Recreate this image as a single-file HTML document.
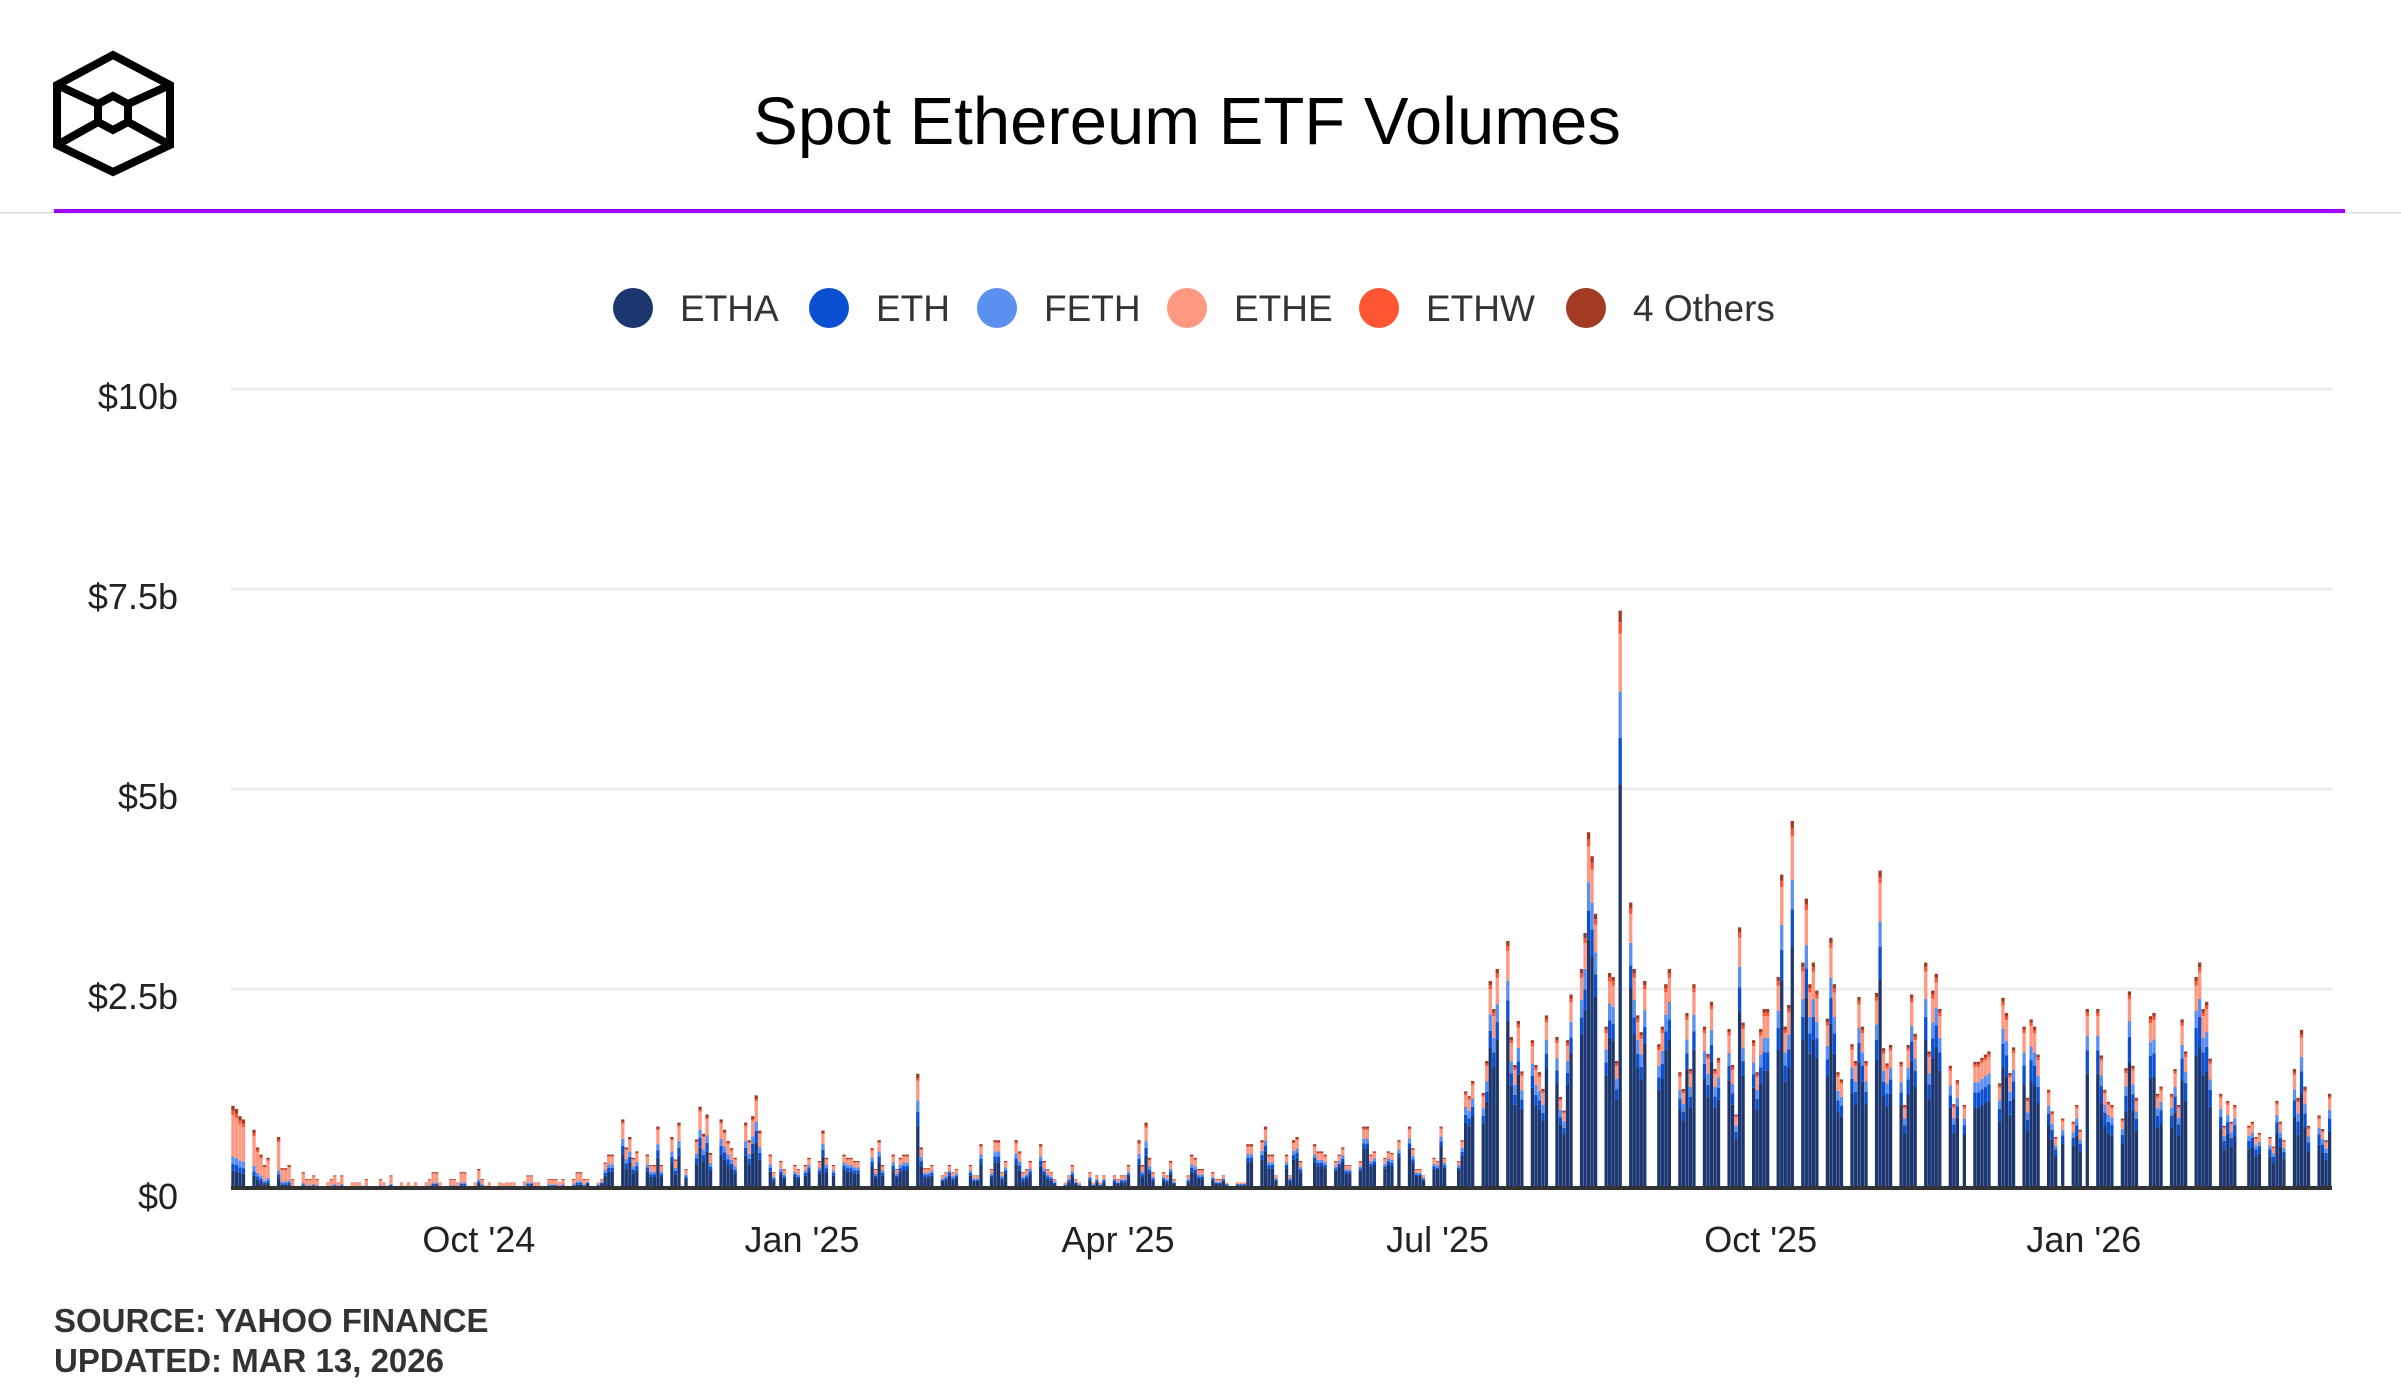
<!DOCTYPE html>
<html><head><meta charset="utf-8"><style>
body{margin:0;background:#fff;}
svg{display:block;font-family:"Liberation Sans",sans-serif;}
</style></head><body>
<svg id="chart" width="2401" height="1400" viewBox="0 0 2401 1400" xmlns="http://www.w3.org/2000/svg">
<g fill="none" stroke="#000" stroke-width="8" stroke-linejoin="miter">
<polygon points="113,55 170,85 170,145 113,172 57,145 57,85"/>
<polygon points="113,96 128,104 128,122 113,130 98,122 98,104"/>
<line x1="57" y1="85" x2="98" y2="104"/><line x1="170" y1="85" x2="128" y2="104"/>
<line x1="57" y1="145" x2="98" y2="122"/><line x1="170" y1="145" x2="128" y2="122"/>
</g>
<text x="1187" y="144" text-anchor="middle" font-size="67" fill="#000">Spot Ethereum ETF Volumes</text>
<rect x="0" y="212" width="2401" height="1.5" fill="#ddd"/>
<rect x="54" y="209" width="2291" height="4" fill="#a100ff"/>
<g id="legend" font-size="37" fill="#333"></g>
<g id="grid"></g>
<g id="yaxis" font-size="36" fill="#222"></g>
<g id="bars"></g>
<rect x="231" y="1186" width="2101" height="4" fill="#333"/>
<g id="xaxis" font-size="36" fill="#222"></g>
<text x="54" y="1332" font-size="33" font-weight="bold" fill="#333">SOURCE: YAHOO FINANCE</text>
<text x="54" y="1372" font-size="33" font-weight="bold" fill="#333">UPDATED: MAR 13, 2026</text>
</svg>
<script>
const seriesNames = ["ETHA","ETH","FETH","ETHE","ETHW","4 Others"];
const seriesColors = ["#1c3770","#0b50d0","#5b8ff0","#ff9880","#ff5533","#a33a22"];
const yTicks = [0,2.5,5,7.5,10];
const yTickLabels = ["$0","$2.5b","$5b","$7.5b","$10b"];
const xTickLabels = ["Oct '24","Jan '25","Apr '25","Jul '25","Oct '25","Jan '26"];
const xTickDays = [70,162,252,343,435,527];
// weekly totals ($b), Mon..Fri, first week starts Mon Jul 22 2024
const weeklyTotals = [
[0,1.04,1.0,0.91,0.87],[.74,.52,.43,.3,.39],[.65,.26,.26,.3,.125],[.21,.125,.125,.17,.125],
[.08,.125,.17,.08,.17],[.08,.08,.08,.04,.125],[0,.125,.08,.04,.17],[.08,.04,.08,.04,.08],
[.08,.125,.21,.21,.08],[.125,.125,.08,.21,.21],[.08,.25,.125,.04,.08],[.08,.07,.08,.08,.08],
[.09,.17,.17,.08,.08],[.125,.125,.125,.08,.125],[.125,.21,.21,.125,.125],[.08,.125,.33,.43,.43],
[.87,.52,.65,.39,.47],[.43,.3,.3,.78,.3],[.65,.37,.83,0,.25],[.62,1.03,.69,.93,.45],
[.87,.74,.6,.51,.39],[.83,.61,.91,1.17,.73],[.43,.21,0,.35,.25],[.3,.25,0,.3,.39],
[.35,.73,.39,0,.3],[.43,.39,.39,.35,.35],[0,.51,.25,.61,.3],[.43,.25,.39,.43,.43],
[1.44,.52,.26,.26,.3],[.17,.21,.3,.21,.25],[0,.3,.17,.17,.56],[.25,.61,.61,.21,.35],
[.61,.47,.21,.25,.35],[.56,.35,.25,.21,.125],[.08,.17,.3,.125,.08],[.21,.08,.17,.08,.17],
[.17,.125,.17,.17,.3],[.61,.3,.83,.39,.21],[.21,.17,.35,.125,0],[.17,.43,.39,.25,.25],
[.21,.125,.125,.17,.08],[.08,.08,.08,.56,.56],[.61,.78,.43,.43,.17],[.43,.17,.61,.65,.35],
[0,.56,.47,.47,.43],[.35,.43,.52,.3,.3],[.35,.78,.78,.43,.47],[.39,.47,.45,0,.61],
[.78,.51,.25,.25,.17],[.39,.35,.78,.39,0],[.35,.61,1.22,1.16,1.35],[1.2,1.6,2.6,2.25,2.75],
[3.1,1.9,1.55,2.1,1.47],[1.86,1.55,1.46,1.25,2.17],[1.9,1.15,.98,1.86,2.43],[2.75,3.2,4.46,4.16,3.44],
[2.03,2.7,2.65,1.6,7.23],[3.58,2.75,2.17,1.96,2.6],[0,1.81,2.03,2.56,2.75],[1.46,1.25,2.2,1.5,2.56],
[2.03,1.69,2.34,1.5,1.64],[2.0,1.55,.93,3.27,2.08],[1.86,1.46,2.0,2.25,2.25],[2.65,3.93,2.03,2.3,4.6],
[2.83,3.63,2.56,2.83,2.48],[2.13,3.14,2.56,1.46,1.37],[1.81,1.6,2.4,2.03,1.6],[2.45,3.98,1.76,1.57,1.8],
[1.59,1.05,1.8,2.43,1.94],[2.83,1.72,2.48,2.69,2.25],[1.54,1.06,1.36,0,1.05],[1.59,1.59,1.64,1.68,1.72],
[1.32,2.39,2.2,1.45,1.77],[2.03,1.14,2.12,2.03,1.68],[1.24,.97,.65,0,.88],[.84,1.05,.74,0,2.25],
[2.25,1.67,1.24,1.09,1.05],[.88,1.51,2.47,1.54,1.14],[0,2.16,2.2,1.19,1.28],[1.19,1.5,1.05,2.12,1.72],
[2.65,2.83,2.25,2.34,1.63],[1.19,.79,1.1,.84,1.05],[0,.79,.84,.65,.7],[.65,.53,1.1,.84,.61],
[1.5,1.14,1.99,1.28,.79],[.92,.75,.61,1.19,0]
];
// monthly share of each fund (Jul 2024 .. Mar 2026)
const shareETHA = [0.22,0.2,0.2,0.25,0.5,0.5,0.55,0.55,0.5,0.5,0.6,0.65,0.68,0.7,0.68,0.66,0.66,0.64,0.64,0.63,0.6];
const shareETH  = [0.08,0.08,0.1,0.12,0.12,0.12,0.12,0.12,0.13,0.12,0.1,0.08,0.08,0.08,0.09,0.1,0.1,0.12,0.13,0.13,0.14];
const shareFETH = [0.09,0.08,0.08,0.1,0.1,0.1,0.1,0.1,0.1,0.1,0.08,0.08,0.08,0.08,0.08,0.08,0.08,0.08,0.08,0.08,0.09];
const shareETHE = [0.5,0.54,0.52,0.43,0.22,0.22,0.17,0.17,0.2,0.2,0.16,0.14,0.12,0.1,0.11,0.12,0.12,0.12,0.11,0.12,0.12];
const shareETHW = [0.05,0.04,0.04,0.04,0.02,0.02,0.02,0.02,0.03,0.03,0.02,0.02,0.02,0.02,0.02,0.02,0.02,0.02,0.02,0.02,0.02];
const shareOthers = [0.06,0.06,0.06,0.06,0.04,0.04,0.04,0.04,0.04,0.05,0.04,0.03,0.02,0.02,0.02,0.02,0.02,0.02,0.02,0.02,0.03];

const NS="http://www.w3.org/2000/svg";
const X0=233, PXDAY=3.512, Y0=1189, PXB=80;
const xScale=d=>X0+PXDAY*d;
const yScale=v=>Y0-PXB*v;
function mk(tag,attrs,parent){const e=document.createElementNS(NS,tag);for(const k in attrs)e.setAttribute(k,attrs[k]);parent.appendChild(e);return e;}

// legend
const legendX=[633,829,997,1187,1379,1586];
const lg=document.getElementById('legend');
seriesNames.forEach((n,i)=>{
  const g=mk('g',{},lg);
  
  
  mk('circle',{cx:legendX[i],cy:308,r:20,fill:seriesColors[i]},g);
  const t=mk('text',{x:legendX[i]+47,y:321},g);t.textContent=n;
});
// y axis
const grid=document.getElementById('grid'),ya=document.getElementById('yaxis');
yTicks.forEach((v,i)=>{
  if(v>0){const l=mk('rect',{x:231,y:yScale(v)-1.5,width:2101,height:3,fill:'#eee'},grid);
    
    }
  const t=mk('text',{x:178,y:yScale(v)+20,'text-anchor':'end'},ya);
  
  
  t.textContent=yTickLabels[i];
});
// x axis
const xa=document.getElementById('xaxis');
xTickLabels.forEach((s,i)=>{
  const t=mk('text',{x:xScale(xTickDays[i]),y:1252,'text-anchor':'middle'},xa);
  
  
  t.textContent=s;
});
// bars
const shares=[shareETHA,shareETH,shareFETH,shareETHE,shareETHW,shareOthers];
const bars=document.getElementById('bars');
const start=new Date(Date.UTC(2024,6,23));
weeklyTotals.forEach((wk,w)=>{
  wk.forEach((tot,dow)=>{
    if(!tot)return;
    const d=w*7+dow-1;
    const dt=new Date(start.getTime()+d*86400000);
    const m=(dt.getUTCFullYear()-2024)*12+dt.getUTCMonth()-6;
    const g=mk('g',{},bars);
    
    
    let acc=0;const x=xScale(d)-1.7;
    shares.forEach((sh,si)=>{
      const v=tot*sh[m];
      const y1=yScale(acc+v),y2=yScale(acc);
      const r=mk('rect',{x:x,y:y1,width:3.3,height:Math.max(0,y2-y1),fill:seriesColors[si]},g);
      
      
      acc+=v;
    });
  });
});
</script>
</body></html>
